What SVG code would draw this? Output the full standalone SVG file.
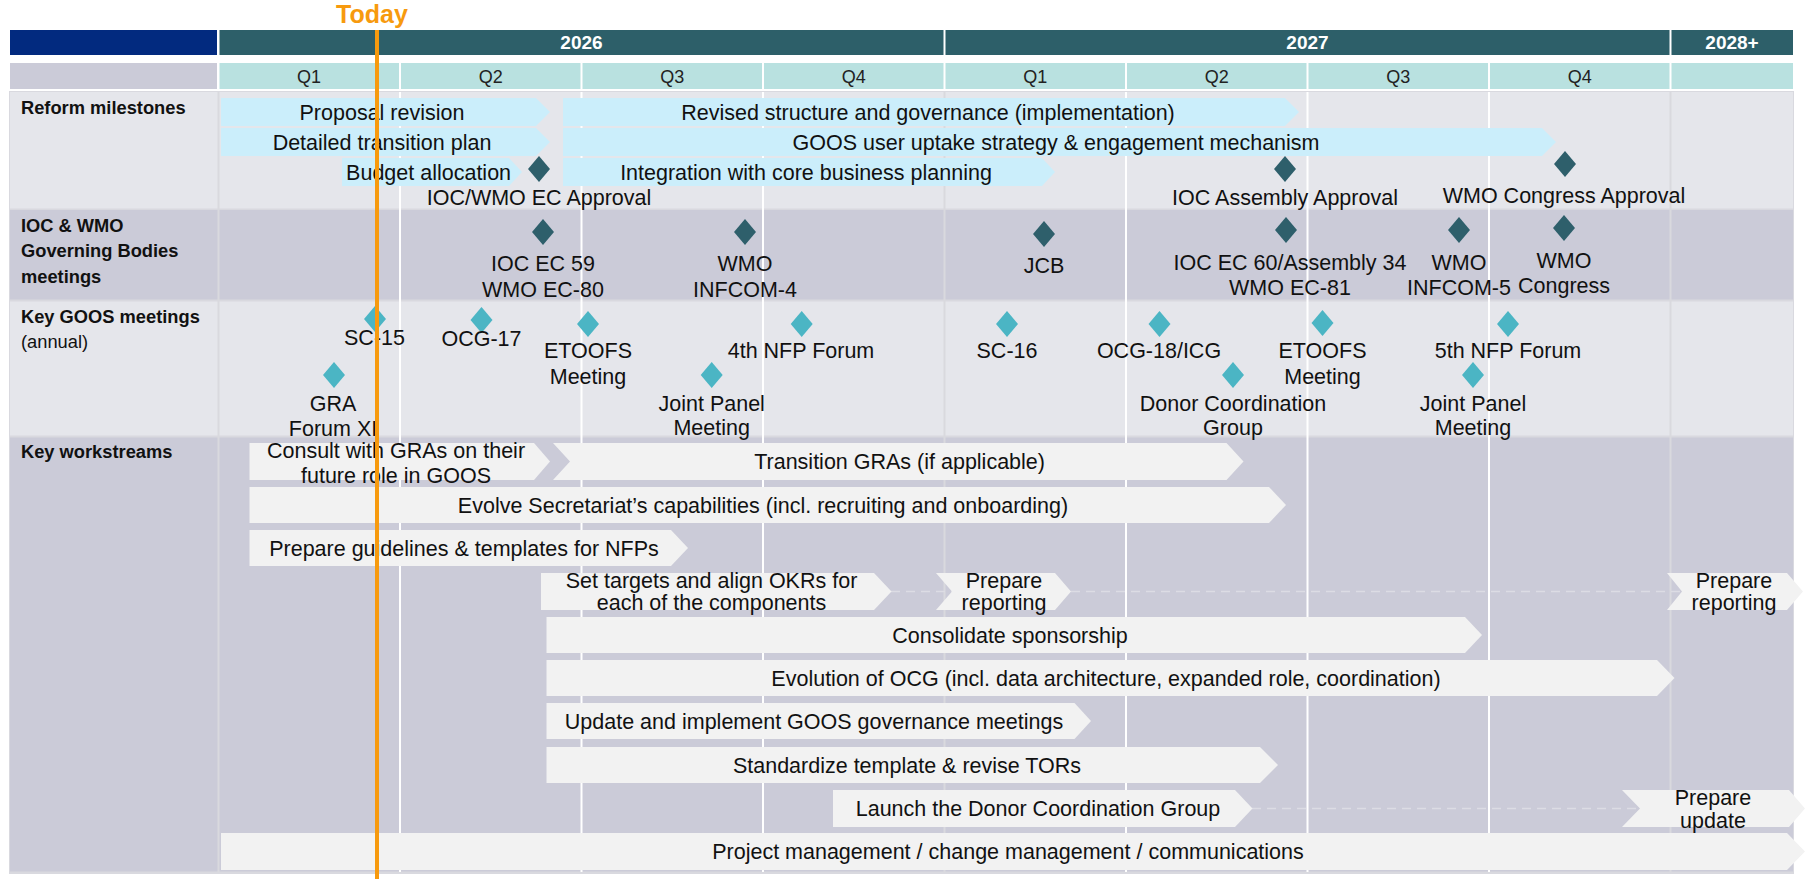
<svg xmlns="http://www.w3.org/2000/svg" xmlns:xlink="http://www.w3.org/1999/xlink" width="1810" height="879" viewBox="0 0 1810 879">
<style>
text{font-family:"Liberation Sans",Arial,sans-serif;fill:#111}
.t{font-size:21.5px;text-anchor:middle}
.lbl{font-size:18.3px;font-weight:bold}
.reg{font-size:18.3px}
.yr{font-size:19px;font-weight:bold;fill:#fff;text-anchor:middle}
.q{font-size:18px;text-anchor:middle;fill:#222}
.bb{fill:#cbeefb}
.bw{fill:#f2f2f2}
.dd{fill:#2e5f6b}
.dc{fill:#4bb5c4}
.rl{fill:#e5e6eb}
.rd{fill:#cbcbd8}
.gw{stroke:#ffffff;stroke-width:2}
.gg{stroke:#d9d9de;stroke-width:2}
.dash{stroke:#dcdce4;stroke-width:1.5;stroke-dasharray:9 6;fill:none}
</style>
<defs>
<path id="dia" d="M0,-13 L11,0 L0,13 L-11,0Z"/>
</defs>
<rect width="1810" height="879" fill="#ffffff"/>

<g id="header">
<rect x="10" y="30" width="207" height="25" fill="#022a7f"/>
<rect x="219.5" y="30" width="724" height="25" fill="#2d5f69"/>
<rect x="945.5" y="30" width="724" height="25" fill="#2d5f69"/>
<rect x="1671.5" y="30" width="121.5" height="25" fill="#2d5f69"/>
<text class="yr" x="581.5" y="49">2026</text>
<text class="yr" x="1307.5" y="49">2027</text>
<text class="yr" x="1732" y="49">2028+</text>
<rect x="10" y="63" width="207" height="26" class="rd"/>
<g fill="#b9e1e0">
<rect x="219.5" y="63" width="179.5" height="26"/>
<rect x="401" y="63" width="179.5" height="26"/>
<rect x="582.5" y="63" width="179.5" height="26"/>
<rect x="764" y="63" width="179.5" height="26"/>
<rect x="945.5" y="63" width="179.5" height="26"/>
<rect x="1127" y="63" width="179.5" height="26"/>
<rect x="1308.5" y="63" width="179.5" height="26"/>
<rect x="1490" y="63" width="179.5" height="26"/>
<rect x="1671.5" y="63" width="121.5" height="26"/>
</g>
<text class="q" x="309" y="82.5">Q1</text>
<text class="q" x="490.7" y="82.5">Q2</text>
<text class="q" x="672.2" y="82.5">Q3</text>
<text class="q" x="853.7" y="82.5">Q4</text>
<text class="q" x="1035.2" y="82.5">Q1</text>
<text class="q" x="1216.7" y="82.5">Q2</text>
<text class="q" x="1398.2" y="82.5">Q3</text>
<text class="q" x="1579.7" y="82.5">Q4</text>
</g>

<g id="rows">
<rect x="9" y="91" width="1785" height="783" fill="#d9d9df"/>
<rect x="10" y="92" width="1783" height="116.5" class="rl"/>
<rect x="10" y="210" width="1783" height="89.5" class="rd"/>
<rect x="10" y="301.5" width="1783" height="134" class="rl"/>
<rect x="10" y="437.5" width="1783" height="434" class="rd"/>
<text class="lbl" x="21" y="114">Reform milestones</text>
<text class="lbl" x="21" y="232">IOC &amp; WMO</text>
<text class="lbl" x="21" y="257">Governing Bodies</text>
<text class="lbl" x="21" y="283">meetings</text>
<text class="lbl" x="21" y="323">Key GOOS meetings</text>
<text class="reg" x="21" y="348">(annual)</text>
<text class="lbl" x="21" y="458">Key workstreams</text>
</g>

<g id="grid">
<line class="gg" x1="218.5" y1="92" x2="218.5" y2="872"/>
<line class="gw" x1="400" y1="92" x2="400" y2="872"/>
<line class="gw" x1="581.5" y1="92" x2="581.5" y2="872"/>
<line class="gw" x1="763" y1="92" x2="763" y2="872"/>
<line class="gg" x1="944.5" y1="92" x2="944.5" y2="872"/>
<line class="gw" x1="1126" y1="92" x2="1126" y2="872"/>
<line class="gw" x1="1307.5" y1="92" x2="1307.5" y2="872"/>
<line class="gw" x1="1489" y1="92" x2="1489" y2="872"/>
<line class="gg" x1="1670.5" y1="92" x2="1670.5" y2="872"/>
</g>

<g id="connectors">
<line class="dash" x1="891" y1="591.5" x2="1682" y2="591.5"/>
<line class="dash" x1="1252" y1="808.5" x2="1640" y2="808.5"/>
</g>

<g id="reform">
<g id="proposal-revision"><polygon class="bb" points="221,98 536,98 550,112 536,126 221,126"/><text class="t" x="382" y="119.5">Proposal revision</text></g>
<g id="detailed-transition-plan"><polygon class="bb" points="221,128 536,128 550,142 536,156 221,156"/><text class="t" x="382" y="149.5">Detailed transition plan</text></g>
<g id="budget-allocation"><polygon class="bb" points="342,158 509,158 522,172 509,186 342,186"/><text class="t" x="428.6" y="179.5">Budget allocation</text></g>
<g id="revised-structure"><polygon class="bb" points="563,98 1285,98 1299,112 1285,126 563,126"/><text class="t" x="928" y="119.5">Revised structure and governance (implementation)</text></g>
<g id="user-uptake"><polygon class="bb" points="563,128 1542,128 1556,142 1542,156 563,156"/><text class="t" x="1056" y="149.5">GOOS user uptake strategy &amp; engagement mechanism</text></g>
<g id="integration"><polygon class="bb" points="563,158 1042,158 1055,172 1042,186 563,186"/><text class="t" x="806" y="179.5">Integration with core business planning</text></g>
<g id="ioc-wmo-ec-approval"><use xlink:href="#dia" class="dd" x="539" y="169"/><text class="t" x="539" y="205">IOC/WMO EC Approval</text></g>
<g id="ioc-assembly-approval"><use xlink:href="#dia" class="dd" x="1285" y="169"/><text class="t" x="1285" y="205">IOC Assembly Approval</text></g>
<g id="wmo-congress-approval"><use xlink:href="#dia" class="dd" x="1565" y="164"/><text class="t" x="1564" y="203">WMO Congress Approval</text></g>
</g>

<g id="governing">
<g id="ioc-ec-59"><use xlink:href="#dia" class="dd" x="543" y="232"/><text class="t" x="543" y="271">IOC EC 59</text><text class="t" x="543" y="297">WMO EC-80</text></g>
<g id="wmo-infcom-4"><use xlink:href="#dia" class="dd" x="745" y="232"/><text class="t" x="745" y="271">WMO</text><text class="t" x="745" y="297">INFCOM-4</text></g>
<g id="jcb"><use xlink:href="#dia" class="dd" x="1044" y="234"/><text class="t" x="1044" y="273">JCB</text></g>
<g id="ioc-ec-60"><use xlink:href="#dia" class="dd" x="1286" y="230"/><text class="t" x="1290" y="270">IOC EC 60/Assembly 34</text><text class="t" x="1290" y="295">WMO EC-81</text></g>
<g id="wmo-infcom-5"><use xlink:href="#dia" class="dd" x="1459" y="230"/><text class="t" x="1459" y="270">WMO</text><text class="t" x="1459" y="295">INFCOM-5</text></g>
<g id="wmo-congress"><use xlink:href="#dia" class="dd" x="1564" y="228"/><text class="t" x="1564" y="268">WMO</text><text class="t" x="1564" y="293">Congress</text></g>
</g>

<g id="goos-meetings">
<g id="sc-15"><use xlink:href="#dia" class="dc" x="375" y="319"/><text class="t" x="374.5" y="345">SC-15</text></g>
<g id="ocg-17"><use xlink:href="#dia" class="dc" x="481.5" y="320"/><text class="t" x="481.5" y="345.5">OCG-17</text></g>
<g id="gra-forum"><use xlink:href="#dia" class="dc" x="334" y="375"/><text class="t" x="333" y="410.5">GRA</text><text class="t" x="333" y="436">Forum XI</text></g>
<g id="etoofs-1"><use xlink:href="#dia" class="dc" x="588" y="324"/><text class="t" x="588" y="358">ETOOFS</text><text class="t" x="588" y="383.5">Meeting</text></g>
<g id="joint-panel-1"><use xlink:href="#dia" class="dc" x="711.7" y="375"/><text class="t" x="711.7" y="410.5">Joint Panel</text><text class="t" x="711.7" y="435">Meeting</text></g>
<g id="nfp-forum-4"><use xlink:href="#dia" class="dc" x="801.7" y="324"/><text class="t" x="801" y="358">4th NFP Forum</text></g>
<g id="sc-16"><use xlink:href="#dia" class="dc" x="1007" y="324"/><text class="t" x="1007" y="358">SC-16</text></g>
<g id="ocg-18"><use xlink:href="#dia" class="dc" x="1159.5" y="324"/><text class="t" x="1159" y="358">OCG-18/ICG</text></g>
<g id="donor-group"><use xlink:href="#dia" class="dc" x="1233" y="375"/><text class="t" x="1233" y="410.5">Donor Coordination</text><text class="t" x="1233" y="435">Group</text></g>
<g id="etoofs-2"><use xlink:href="#dia" class="dc" x="1322.5" y="323"/><text class="t" x="1322.5" y="358">ETOOFS</text><text class="t" x="1322.5" y="383.5">Meeting</text></g>
<g id="joint-panel-2"><use xlink:href="#dia" class="dc" x="1473" y="375"/><text class="t" x="1473" y="410.5">Joint Panel</text><text class="t" x="1473" y="435">Meeting</text></g>
<g id="nfp-forum-5"><use xlink:href="#dia" class="dc" x="1508" y="324"/><text class="t" x="1508" y="358">5th NFP Forum</text></g>
</g>

<g id="workstreams">
<g id="consult"><polygon class="bw" points="249.5,443 534,443 550,461.5 534,480 249.5,480"/><text class="t" x="396" y="458">Consult with GRAs on their</text><text class="t" x="396" y="483">future role in GOOS</text></g>
<g id="transition"><polygon class="bw" points="553,443 1226.5,443 1243.5,461.5 1226.5,480 553,480 570,461.5"/><text class="t" x="899.6" y="469">Transition GRAs (if applicable)</text></g>
<g id="evolve"><polygon class="bw" points="249.5,487 1269,487 1286,505 1269,523 249.5,523"/><text class="t" x="763" y="512.5">Evolve Secretariat’s capabilities (incl. recruiting and onboarding)</text></g>
<g id="guidelines"><polygon class="bw" points="249.5,530 671,530 688,548 671,566 249.5,566"/><text class="t" x="464" y="555.5">Prepare guidelines &amp; templates for NFPs</text></g>
<g id="targets"><polygon class="bw" points="541,573 874,573 891.5,591.5 874,610 541,610"/><text class="t" x="711.5" y="587.5">Set targets and align OKRs for</text><text class="t" x="711.5" y="610">each of the components</text></g>
<g id="reporting-1"><polygon class="bw" points="936,573 1055,573 1071,591.5 1055,610 936,610 952,591.5"/><text class="t" x="1004" y="587.5">Prepare</text><text class="t" x="1004" y="610">reporting</text></g>
<g id="reporting-2"><polygon class="bw" points="1667,573 1787,573 1803,591.5 1787,610 1667,610 1682,591.5"/><text class="t" x="1734" y="587.5">Prepare</text><text class="t" x="1734" y="610">reporting</text></g>
<g id="sponsorship"><polygon class="bw" points="546.5,617 1465,617 1482,635 1465,653 546.5,653"/><text class="t" x="1010" y="642.5">Consolidate sponsorship</text></g>
<g id="ocg-evolution"><polygon class="bw" points="546.5,660 1657,660 1674.5,678 1657,696 546.5,696"/><text class="t" x="1106" y="685.5">Evolution of OCG (incl. data architecture, expanded role, coordination)</text></g>
<g id="governance-meetings"><polygon class="bw" points="546.5,703 1074.5,703 1091,721 1074.5,739 546.5,739"/><text class="t" x="814" y="728.5">Update and implement GOOS governance meetings</text></g>
<g id="tors"><polygon class="bw" points="546.5,747 1260,747 1278,765 1260,783 546.5,783"/><text class="t" x="907" y="772.5">Standardize template &amp; revise TORs</text></g>
<g id="launch-donor"><polygon class="bw" points="833,790 1235,790 1252.5,808.5 1235,827 833,827"/><text class="t" x="1038" y="816">Launch the Donor Coordination Group</text></g>
<g id="prepare-update"><polygon class="bw" points="1622,790 1789,790 1805,808.5 1789,827 1622,827 1640,808.5"/><text class="t" x="1713" y="805">Prepare</text><text class="t" x="1713" y="828">update</text></g>
<g id="project-management"><polygon class="bw" points="221,833 1787,833 1805,851.5 1787,870 221,870"/><text class="t" x="1008" y="859">Project management / change management / communications</text></g>
</g>

<g id="today">
<line x1="377" y1="30" x2="377" y2="879" stroke="#f79a0e" stroke-width="4"/>
<text x="372" y="23" font-size="25" font-weight="bold" text-anchor="middle" style="fill:#f79a0e">Today</text>
</g>
</svg>
